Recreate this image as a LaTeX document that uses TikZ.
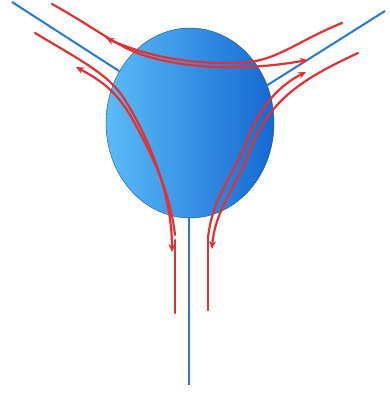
\documentclass[tikz,border=0pt]{standalone}
\usetikzlibrary{arrows.meta,shapes.geometric}
\definecolor{redline}{HTML}{E03232}
\definecolor{blueline}{HTML}{2878D0}
\definecolor{ballL}{HTML}{5CBCF7}
\definecolor{ballR}{HTML}{1468D2}
\begin{document}
\begin{tikzpicture}[x=1pt,y=-1pt,
  axis/.style={draw=blueline,line width=2pt},
  flow/.style={draw=redline,line width=2.2pt,line cap=round},
  flowarr/.style={flow,-{Stealth[length=8pt,width=7pt]}}]
\useasboundingbox (0,0) rectangle (390,394);
% ball
\node[ellipse,minimum width=168pt,minimum height=190pt,inner sep=0pt,
  left color=ballL,right color=ballR,draw=ballR!80!black,line width=0.4pt] (ball) at (190,123) {};
% blue axes
\coordinate (la) at (12,2);
\coordinate (lb) at (119,71);
\coordinate (ra) at (385,11);
\coordinate (rb) at (266,86);
\coordinate (ba) at (189,217);
\coordinate (bb) at (189,385);
\draw[axis] (la) -- (lb);
\draw[axis] (ra) -- (rb);
\draw[axis] (ba) -- (bb);
% red flows
\draw[flowarr] (52,4) .. controls (95,28) and (115,45) .. (140,54)
  .. controls (180,68) and (240,72) .. (308,60);
\draw[flowarr] (342,23) .. controls (300,40) and (280,58) .. (250,62)
  .. controls (200,66) and (150,58) .. (106,38);
\draw[flowarr] (35,33) .. controls (80,60) and (110,75) .. (125,100)
  .. controls (150,140) and (172,195) .. (172,252);
\draw[flow] (175,240) -- (175,313);
\draw[flowarr] (175,235) .. controls (170,190) and (150,150) .. (130,115)
  .. controls (115,90) and (100,80) .. (76,67);
\draw[flowarr] (358,53) .. controls (300,80) and (270,100) .. (250,150)
  .. controls (235,190) and (215,210) .. (212,249);
\draw[flow] (208,238) -- (208,310);
\draw[flowarr] (208,238) .. controls (212,200) and (230,180) .. (245,145)
  .. controls (260,105) and (280,85) .. (306,72);
\end{tikzpicture}
\end{document}
